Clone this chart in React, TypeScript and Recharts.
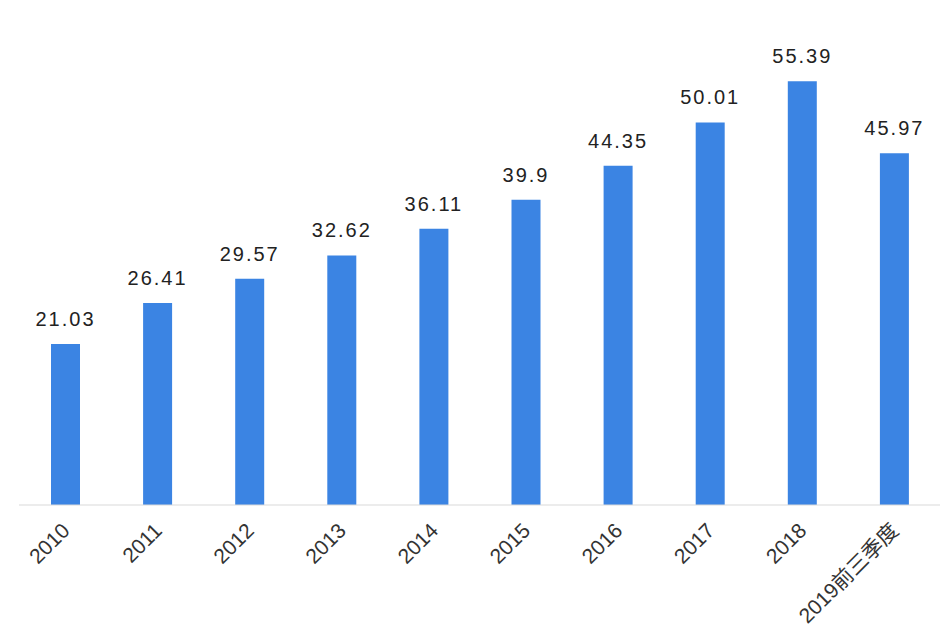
import { BarChart, Bar, XAxis, YAxis, LabelList } from "recharts";

const years = ["2010", "2011", "2012", "2013", "2014", "2015", "2016", "2017", "2018", "2019前三季度"];
const values = [21.03, 26.41, 29.57, 32.62, 36.11, 39.9, 44.35, 50.01, 55.39, 45.97];

const data = years.map((year, i) => ({ year, value: values[i] }));

const font = "Arial, 'Liberation Sans', 'Noto Sans CJK SC', sans-serif";

const YearTick = (props: any) => {
    const { x, y, payload } = props;
    return (
        <g transform={`translate(${x + 6},${y + 19})`}>
            <text
                transform="rotate(-45)"
                textAnchor="end"
                fontSize={21}
                fill="#333"
                fontFamily={font}
            >
                {payload.value}
            </text>
        </g>
    );
};

export default function App() {
    return (
        <div style={{ position: "absolute", left: 0, top: 0, width: 942, height: 641, background: "#fff" }}>
            <BarChart
                width={942}
                height={641}
                data={data}
                margin={{ top: 46, right: 2, bottom: 0, left: 19 }}
            >
                <XAxis
                    dataKey="year"
                    interval={0}
                    tickLine={false}
                    axisLine={{ stroke: "#d9d9d9" }}
                    tick={<YearTick />}
                    height={136}
                />
                <YAxis hide domain={[0, 60]} />
                <Bar dataKey="value" fill="#3b84e3" barSize={29} isAnimationActive={false}>
                    <LabelList
                        dataKey="value"
                        position="top"
                        offset={18}
                        fontSize={20}
                        fill="#222"
                        fontFamily={font}
                        letterSpacing={2}
                    />
                </Bar>
            </BarChart>
        </div>
    );
}
